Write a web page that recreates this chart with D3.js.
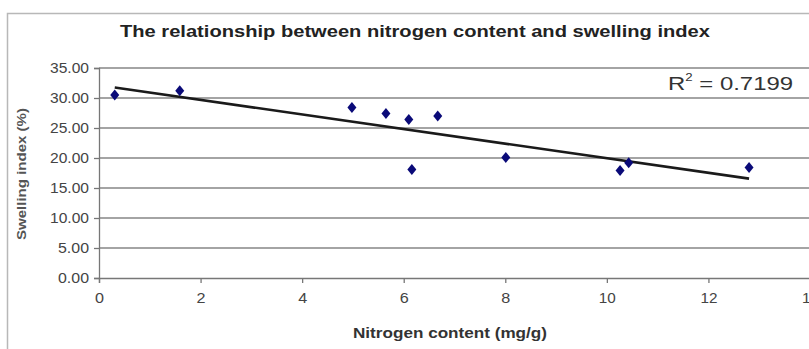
<!DOCTYPE html>
<html>
<head>
<meta charset="utf-8">
<script src="https://cdn.jsdelivr.net/npm/d3@7"></script>
<style>
  body { margin: 0; background: #fff; }
  text { font-family: "Liberation Sans", Arial, sans-serif; }
</style>
</head>
<body>
<svg id="chart"></svg>
<script>
// nitrogen content (mg/g) and swelling index (%)
const nitrogen = [0.31, 1.59, 4.98, 5.65, 6.10, 6.16, 6.67, 8.01, 10.26, 10.43, 12.80]
const swelling = [30.5, 31.2, 28.4, 27.4, 26.4, 18.1, 27.0, 20.1, 17.9, 19.2, 18.4]
const xTicks = [0, 2, 4, 6, 8, 10, 12, 14]
const yTicks = [0, 5, 10, 15, 20, 25, 30, 35]
const rSquared = "0.7199"

const width = 809
const height = 349
const margins = {left: 99, right: 0, top: 68, bottom: 71}

const svg = d3.select("#chart").attr("width", width).attr("height", height)

const scaleX = d3.scaleLinear().domain([0, 14]).range([margins.left, 810])
const scaleY = d3.scaleLinear().domain([0, 35]).range([height - margins.bottom, margins.top])

// outer chart frame
svg.append("path")
    .attr("d", `M7.5,${height} V13.5 H${width}`)
    .attr("fill", "none")
    .attr("stroke", "#b8b8b8")
    .attr("stroke-width", 1.5)

// title
svg.append("text")
    .attr("x", 415).attr("y", 37)
    .attr("text-anchor", "middle")
    .attr("font-size", 17)
    .attr("font-weight", "bold")
    .attr("fill", "#222")
    .attr("textLength", 590)
    .attr("lengthAdjust", "spacingAndGlyphs")
    .text("The relationship between nitrogen content and swelling index")

// gridlines
svg.append("g").selectAll("line")
    .data(yTicks.filter(d => d > 0))
    .join("line")
    .attr("x1", margins.left).attr("x2", width)
    .attr("y1", d => scaleY(d)).attr("y2", d => scaleY(d))
    .attr("stroke", "#a4a4a4")
    .attr("stroke-width", 1.8)

// y axis
let yAxis = d3.axisLeft(scaleY).tickValues(yTicks).tickFormat(d3.format(".2f")).tickSize(5).tickPadding(5)
let gy = svg.append("g").attr("transform", `translate(${margins.left},0)`).call(yAxis)
gy.select(".domain").attr("stroke", "#777").attr("stroke-width", 1.3)
gy.selectAll(".tick line").attr("stroke", "#777").attr("stroke-width", 1.3)
gy.selectAll("text").attr("font-size", 14).attr("fill", "#444")
    .attr("textLength", d => d >= 10 ? 39 : 31)
    .attr("lengthAdjust", "spacingAndGlyphs")

// x axis
let xAxis = d3.axisBottom(scaleX).tickValues(xTicks).tickFormat(d3.format("d")).tickSize(5).tickPadding(10)
let gx = svg.append("g").attr("transform", `translate(0,${scaleY(0)})`).call(xAxis)
gx.select(".domain").attr("stroke", "#777").attr("stroke-width", 1.3)
gx.selectAll(".tick line").attr("stroke", "#777").attr("stroke-width", 1.3)
gx.selectAll("text").attr("font-size", 14).attr("fill", "#444")
    .attr("textLength", d => d >= 10 ? 17 : 9)
    .attr("lengthAdjust", "spacingAndGlyphs")

// axis titles
svg.append("text")
    .attr("x", 450).attr("y", 338)
    .attr("text-anchor", "middle")
    .attr("font-size", 14)
    .attr("font-weight", "bold")
    .attr("fill", "#333")
    .attr("textLength", 194)
    .attr("lengthAdjust", "spacingAndGlyphs")
    .text("Nitrogen content (mg/g)")

svg.append("text")
    .attr("transform", `translate(26,174) rotate(-90)`)
    .attr("text-anchor", "middle")
    .attr("font-size", 13)
    .attr("font-weight", "bold")
    .attr("fill", "#555")
    .attr("textLength", 132)
    .attr("lengthAdjust", "spacingAndGlyphs")
    .text("Swelling index (%)")

// linear trendline through the points
const points = nitrogen.map((x, i) => ({x: x, y: swelling[i]}))
const mx = d3.mean(points, d => d.x)
const my = d3.mean(points, d => d.y)
const slope = d3.sum(points, d => (d.x - mx) * (d.y - my)) / d3.sum(points, d => (d.x - mx) ** 2)
const intercept = my - slope * mx
const ext = d3.extent(nitrogen)
const lineGenerator = d3.line().x(d => scaleX(d)).y(d => scaleY(intercept + slope * d))
svg.append("path")
    .attr("d", lineGenerator(ext))
    .attr("fill", "none")
    .attr("stroke", "#1a1a1a")
    .attr("stroke-width", 2.6)

// markers
svg.append("g").selectAll("path")
    .data(points)
    .join("path")
    .attr("transform", d => `translate(${scaleX(d.x)},${scaleY(d.y)})`)
    .attr("d", "M0,-5.5 L4.5,0 L0,5.5 L-4.5,0 Z")
    .attr("fill", "#0a0a78")

// R squared label, stretched sideways like the reference
let r2 = svg.append("text")
    .attr("transform", "translate(668,90) scale(1.33,1)")
    .attr("font-size", 18)
    .attr("fill", "#333")
r2.append("tspan").text("R")
r2.append("tspan").attr("dy", -9).attr("font-size", 10).text("2")
r2.append("tspan").attr("dy", 9).text(" = " + rSquared)
</script>
</body>
</html>
